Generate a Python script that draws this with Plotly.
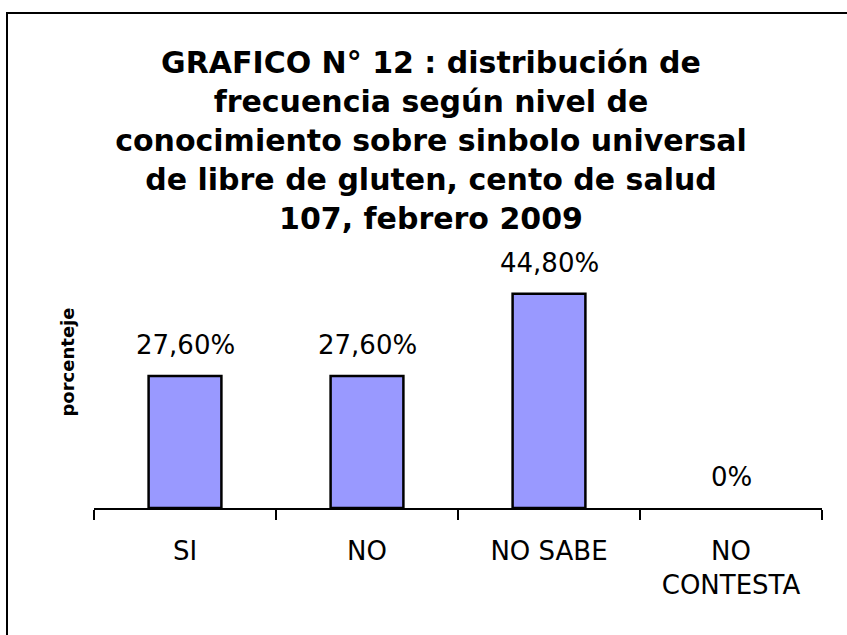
import plotly.graph_objects as go

categories = ["SI", "NO", "NO SABE", "NO<br>CONTESTA"]
values = [27.6, 27.6, 44.8, 0.0]
value_labels = ["27,60%", "27,60%", "44,80%", "0%"]
title_lines = [
    "GRAFICO N° 12 : distribución de",
    "frecuencia según nivel de",
    "conocimiento sobre sinbolo universal",
    "de libre de gluten, cento de salud",
    "107, febrero 2009",
]
y_title = "porcenteje"

W, H = 847, 635
L, R, T, B = 94, 25, 216, 127
plot_h = H - T - B
px_per_unit = 4.78
y_max = plot_h / px_per_unit

fig = go.Figure()
fig.add_trace(go.Bar(
    x=categories, y=values,
    marker=dict(color="#9999FF",
                line=dict(color="black", width=[2.5 if v > 0 else 0 for v in values])),
    hoverinfo="skip",
))

for c, v, t in zip(categories, values, value_labels):
    fig.add_annotation(x=c, y=v, text=t, showarrow=False, yanchor="middle",
                       yshift=31, font=dict(family="DejaVu Sans", size=26, color="black"))

# outer border of chart area (top & left visible)
x0 = (7 - L) / (W - L - R)
y1 = (H - B - 13) / plot_h
fig.add_shape(type="rect", xref="paper", yref="paper",
              x0=x0, x1=1.5, y0=-1.0, y1=y1,
              line=dict(color="black", width=2), fillcolor="rgba(0,0,0,0)")

fig.update_layout(
    width=W, height=H,
    margin=dict(l=L, r=R, t=T, b=B),
    paper_bgcolor="white", plot_bgcolor="white",
    bargap=0.6,
    showlegend=False,
    title=dict(text="<br>".join(title_lines), x=431 / W, xanchor="center",
               xref="container", y=1 - 73 / H, yanchor="middle", yref="container",
               font=dict(family="DejaVu Sans", size=30, color="black", weight="bold")),
    xaxis=dict(showline=True, linecolor="black", linewidth=2,
               ticks="outside", tickson="boundaries", ticklen=10, tickwidth=2, tickcolor="black",
               ticklabelstandoff=19,
               tickfont=dict(family="DejaVu Sans", size=26, color="black"),
               showgrid=False, zeroline=False, fixedrange=True),
    yaxis=dict(range=[0, y_max], showline=False, showticklabels=False, ticks="",
               showgrid=False, zeroline=False, fixedrange=True,
               title=dict(text=y_title, standoff=13,
                          font=dict(family="DejaVu Sans", size=18, color="black", weight="bold"))),
)

fig.write_html("out.html", config={"displayModeBar": False},
               post_script="document.body.style.margin='0';document.body.style.padding='0';")
